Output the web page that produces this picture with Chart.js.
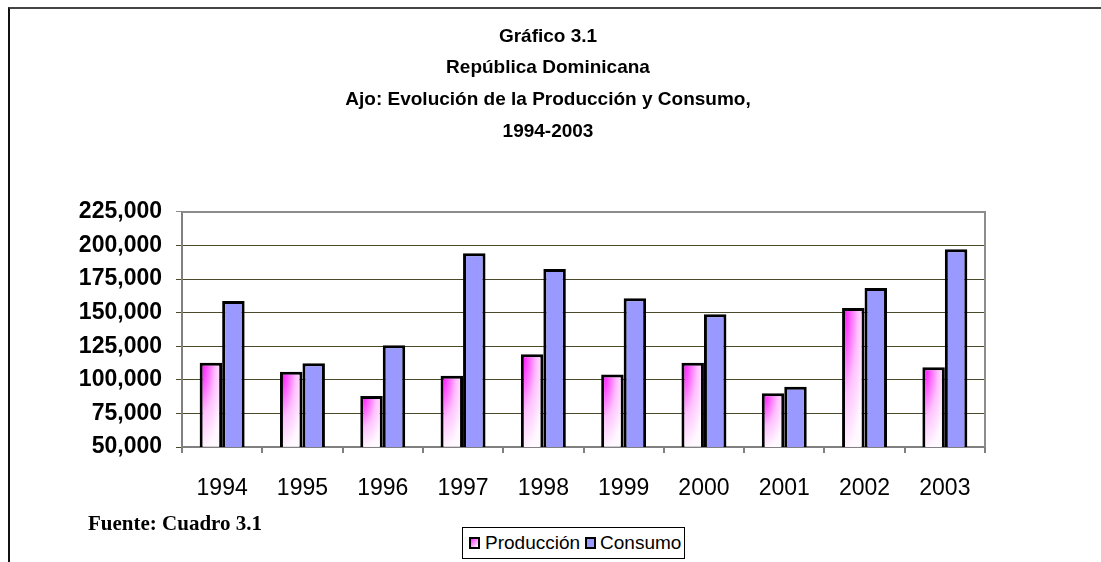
<!DOCTYPE html>
<html>
<head>
<meta charset="utf-8">
<script src="https://cdn.jsdelivr.net/npm/chart.js@4.4.1/dist/chart.umd.min.js"></script>
<style>
  body { margin: 0; background: #fff; }
  #wrap { position: relative; width: 1101px; height: 562px; overflow: hidden; }
  #frame { position: absolute; left: 8px; top: 7px; right: -10px; bottom: -10px;
           border-top: 2px solid #444; border-left: 2px solid #111; }
  #myChart { position: absolute; left: 0; top: 0; }
  #fuente { position: absolute; left: 88px; top: 511px;
            font: bold 21px "Liberation Serif", "Times New Roman", serif; color: #000; }
  #legend { position: absolute; left: 462px; top: 527px; height: 30px; padding: 0 3px 0 6px;
            border: 1px solid #000; background: #fff; display: flex; align-items: center;
            font: 19px "Liberation Sans", Arial, sans-serif; color: #000; }
  #legend .sw { display: inline-block; width: 7px; height: 8px; border: 2px solid #000; margin-right: 5px; }
  #legend .prod { background: linear-gradient(135deg, #ff33ff, #ffffff); }
  #legend .cons { background: #9999ff; margin-left: 5px; margin-right: 4px; }
</style>
</head>
<body>
<div id="wrap">
  <div id="frame"></div>
  <canvas id="myChart" width="1101" height="562"></canvas>
  <div id="fuente">Fuente: Cuadro 3.1</div>
  <div id="legend"><span class="sw prod"></span>Producción<span class="sw cons"></span>Consumo</div>
</div>
<script>
let years = ["1994", "1995", "1996", "1997", "1998", "1999", "2000", "2001", "2002", "2003"];
let produccion = [112800, 106000, 88000, 103100, 119000, 103900, 112800, 90000, 153500, 109300];
let consumo = [158700, 112300, 125700, 194200, 182600, 160700, 148800, 94900, 168400, 197300];
let yTicks = [50000, 75000, 100000, 125000, 150000, 175000, 200000, 225000];
let titleLines = ["Gráfico 3.1", "República Dominicana", "Ajo: Evolución de la Producción y Consumo,", "1994-2003"];

let catPct = 0.56;

// pink-to-white fill, one pattern per bar, anchored at the bar's top-left corner
function prodFill(ctx) {
  let chart = ctx.chart;
  let xs = chart.scales.x, ys = chart.scales.y;
  if (ctx.type !== "data" || !xs || !ys || !xs.width) return "#ff66ff";
  let w = Math.max(2, Math.round((xs.width / years.length) * catPct / 2));
  let left = xs.getPixelForValue(ctx.dataIndex) - w;
  let top = ys.getPixelForValue(ctx.raw);
  let h = Math.max(2, Math.round(ys.getPixelForValue(yTicks[0]) - top));
  let off = document.createElement("canvas");
  off.width = w; off.height = h;
  let o = off.getContext("2d");
  o.fillStyle = "#fff";
  o.fillRect(0, 0, w, h);
  o.save();
  o.scale(w * 1.15, h * 1.05);
  let g = o.createRadialGradient(0, 0, 0, 0, 0, 1);
  g.addColorStop(0, "#ff00ff");
  g.addColorStop(0.25, "#ff4dff");
  g.addColorStop(0.6, "#ffc0ff");
  g.addColorStop(1, "#fff8ff");
  o.fillStyle = g;
  o.fillRect(0, 0, 1, 1);
  o.restore();
  let pat = chart.ctx.createPattern(off, "no-repeat");
  pat.setTransform(new DOMMatrix().translate(left, top));
  return pat;
}

let plotFrame = {
  id: "plotFrame",
  beforeDatasetsDraw(chart) {
    let a = chart.chartArea, c = chart.ctx;
    c.save();
    c.strokeStyle = "#8c8c8c";
    c.lineWidth = 2;
    c.beginPath();
    c.moveTo(a.left, a.top);
    c.lineTo(a.right, a.top);
    c.lineTo(a.right, a.bottom);
    c.stroke();
    c.restore();
  }
};

let chart = new Chart(document.getElementById("myChart"), {
  type: "bar",
  data: {
    labels: years,
    datasets: [
      { label: "Producción", data: produccion, backgroundColor: prodFill },
      { label: "Consumo", data: consumo, backgroundColor: "#9999ff" }
    ]
  },
  options: {
    responsive: false,
    animation: false,
    layout: { padding: { left: 60, right: 65, top: 0, bottom: 0 } },
    datasets: {
      bar: {
        categoryPercentage: catPct,
        barPercentage: 1,
        borderColor: "#000",
        borderWidth: 3,
        borderSkipped: false
      }
    },
    plugins: {
      legend: { display: false },
      tooltip: { enabled: false },
      title: {
        display: true,
        text: titleLines,
        color: "#000",
        font: { family: "'Liberation Sans', Arial, sans-serif", size: 19, weight: "bold", lineHeight: 1.67 },
        padding: { top: 20.5, bottom: 64.5 }
      }
    },
    scales: {
      x: {
        grid: { drawOnChartArea: false, drawTicks: true, tickLength: 6, color: "#808080", lineWidth: 2, offset: true },
        border: { color: "#808080", width: 2 },
        ticks: { color: "#000", padding: 22, font: { family: "'Liberation Sans', Arial, sans-serif", size: 23 } },
        afterFit: s => { s.height = 115; }
      },
      y: {
        min: 50000,
        max: 225000,
        afterBuildTicks: s => { s.ticks = yTicks.map(v => ({ value: v })); },
        grid: {
          tickLength: 6,
          lineWidth: 1,
          color: c => (c.tick && c.tick.value === 225000 ? "#8c8c8c" : "#4a4a2a")
        },
        border: { color: "#808080", width: 2 },
        ticks: {
          color: "#000",
          padding: 14,
          font: { family: "'Liberation Sans', Arial, sans-serif", size: 23, weight: "bold" },
          callback: v => v.toLocaleString("en-US")
        },
        afterFit: s => { s.width = 122; }
      },
      // empty right-hand spacer so the title centres where the original one sits
      pad: {
        type: "linear",
        position: "right",
        grid: { display: false },
        border: { display: false },
        ticks: { display: false },
        afterFit: s => { s.width = 51; }
      }
    }
  },
  plugins: [plotFrame]
});
</script>
</body>
</html>
